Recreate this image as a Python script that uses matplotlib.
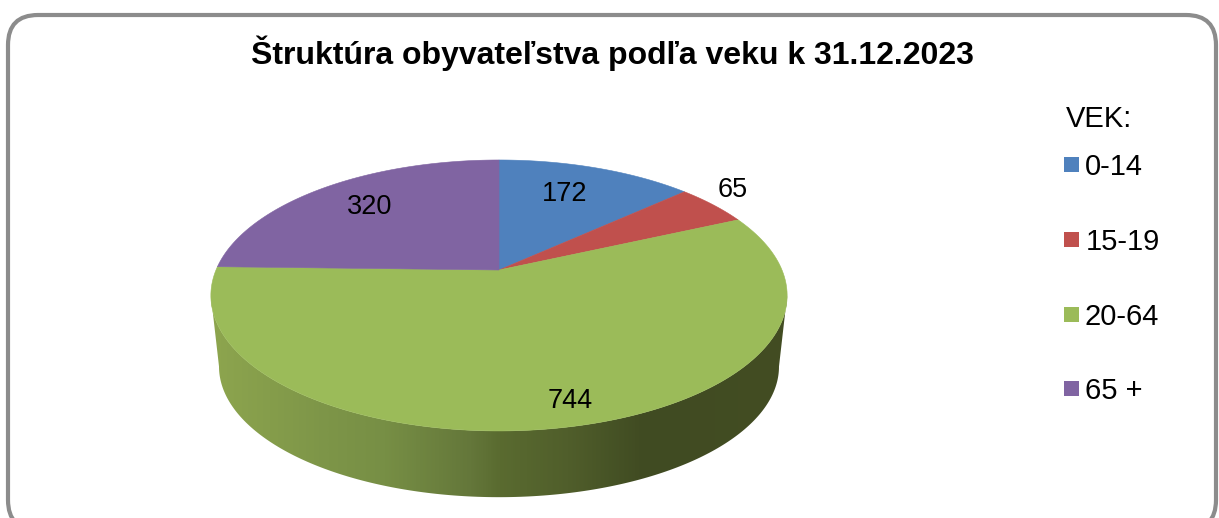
import numpy as np
import matplotlib
matplotlib.use("Agg")
import matplotlib.pyplot as plt
from matplotlib.patches import FancyBboxPatch, Polygon, Rectangle
from matplotlib.colors import LinearSegmentedColormap

plt.rcParams['font.family'] = ['Liberation Sans', 'DejaVu Sans']

title = "Štruktúra obyvateľstva podľa veku k 31.12.2023"
legend_title = "VEK:"
categories = ["0-14", "15-19", "20-64", "65 +"]
values = [172, 65, 744, 320]
colors = ["#4f81bd", "#c0504d", "#9bbb59", "#8064a2"]
label_xy = [(565, 194), (733, 190), (570, 401), (370, 207)]
legend_y = [165, 240, 315, 389]
legend_text_x = [1085, 1086, 1085, 1085]

# projection of the tilted disc to pixels
CX, CY, RX, RY, K = 499, 270, 283, 130.7, 0.188
BRX, BRY, BCY = 275, 126, 342


def rim(deg, cy=CY, rx=RX, ry=RY, frac=1.0):
    a = np.radians(deg)
    u, v = np.sin(a) * frac, np.cos(a) * frac
    w = 1 + K * v
    return CX + rx * u / w, cy - ry * v / w


fig = plt.figure(figsize=(12.19, 5.18), dpi=100, facecolor="white")
ax = fig.add_axes([0, 0, 1, 1])
ax.axis("off")

# frame
ax.add_patch(FancyBboxPatch((38, 45), 1148, 455,
                            boxstyle="round,pad=30,rounding_size=30",
                            fc="white", ec="#8c8c8c", lw=3, zorder=0))

# side wall with gradient
front = np.linspace(100.8, 259.2, 200)
tx, ty = rim(front)
bx, by = rim(front, BCY, BRX, BRY)
side = Polygon(np.r_[np.c_[tx, ty], np.c_[bx, by][::-1]], closed=True,
               fc="none", ec="none", transform=ax.transData)
ax.add_patch(side)
shade = LinearSegmentedColormap.from_list("side", [
    (0.00, "#8da54e"), (0.20, "#7d9548"), (0.30, "#778f45"), (0.45, "#64773a"),
    (0.50, "#5a6b30"), (0.62, "#505e2b"), (0.75, "#404b22"), (1.00, "#434d23")])
im = ax.imshow(np.linspace(0, 1, 400)[None, :], cmap=shade, aspect="auto",
               extent=(211, 788, 500, 290), zorder=1)
im.set_clip_path(side)

# top surface
start = 0.0
total = sum(values)
for val, col in zip(values, colors):
    sweep = val / total * 360
    th = np.linspace(start, start + sweep, 160)
    x, y = rim(th)
    ax.add_patch(Polygon(np.r_[[[CX, CY]], np.c_[x, y]], closed=True,
                         fc=col, ec=col, lw=0.4, zorder=2))
    start += sweep

# labels
for val, (lx, ly) in zip(values, label_xy):
    ax.text(lx, ly, str(val), ha="center", va="center", fontsize=19.5,
            color="black", zorder=3)

ax.text(612, 53, title, ha="center", va="center", fontsize=23,
        fontweight="bold", color="black")
ax.text(1066, 119, legend_title, ha="left", va="center", fontsize=21, color="black")
for cat, col, ly, lx in zip(categories, colors, legend_y, legend_text_x):
    ax.add_patch(Rectangle((1064, ly - 8), 15, 15, fc=col, ec="none", zorder=3))
    ax.text(lx, ly + 2, cat, ha="left", va="center", fontsize=21, color="black")

ax.set_xlim(0, 1219)
ax.set_ylim(518, 0)
fig.savefig("out.png", dpi=100, facecolor="white")
